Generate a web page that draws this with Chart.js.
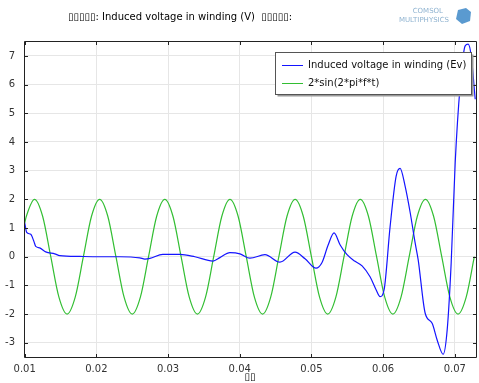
<!DOCTYPE html>
<html>
<head>
<meta charset="utf-8">
<script src="https://cdn.jsdelivr.net/npm/chart.js@4.4.1/dist/chart.umd.min.js"></script>
<style>
html, body { margin: 0; padding: 0; background: #fff; }
#wrap { width: 479px; height: 383px; }
</style>
</head>
<body>
<div id="wrap"><canvas id="voltChart" width="479" height="383"></canvas></div>
<script>
// values
const blueTime = [0.01000, 0.01028, 0.01084, 0.01126, 0.01154, 0.01209, 0.01293, 0.01419, 0.01489, 0.01768,
    0.02047, 0.02327, 0.02606, 0.02676, 0.02746, 0.02927, 0.03165, 0.03374, 0.03626, 0.03723,
    0.03863, 0.04003, 0.04142, 0.04352, 0.04561, 0.04771, 0.04911, 0.05064, 0.05148, 0.05232,
    0.05316, 0.05399, 0.05497, 0.05609, 0.05707, 0.05818, 0.05902, 0.05958, 0.06014, 0.06098,
    0.06182, 0.06237, 0.06307, 0.06377, 0.06447, 0.06489, 0.06587, 0.06684, 0.06754, 0.06838,
    0.06894, 0.06950, 0.07006, 0.07075, 0.07145, 0.07187, 0.07229, 0.07285];
const blueVolts = [1.18, 0.85, 0.78, 0.55, 0.36, 0.31, 0.17, 0.10, 0.04, 0.01,
    0.00, 0.00, -0.04, -0.08, -0.06, 0.08, 0.08, 0.00, -0.15, -0.03,
    0.14, 0.10, -0.05, 0.07, -0.19, 0.16, -0.07, -0.40, -0.20, 0.40,
    0.83, 0.42, 0.07, -0.16, -0.32, -0.70, -1.15, -1.39, -1.15, 1.06,
    2.81, 3.08, 2.46, 1.55, 0.48, -0.10, -1.97, -2.32, -2.90, -3.40,
    -2.55, -0.20, 3.29, 5.95, 7.35, 7.41, 7.00, 5.49];

const greenTime = [0.010000, 0.010227, 0.011364, 0.012500, 0.013636, 0.014773, 0.015909, 0.017045, 0.018182,
    0.019318, 0.020455, 0.021591, 0.022727, 0.023864, 0.025000, 0.026136, 0.027273,
    0.028409, 0.029545, 0.030682, 0.031818, 0.032955, 0.034091, 0.035227, 0.036364,
    0.037500, 0.038636, 0.039773, 0.040909, 0.042045, 0.043182, 0.044318, 0.045455,
    0.046591, 0.047727, 0.048864, 0.050000, 0.051136, 0.052273, 0.053409, 0.054545,
    0.055682, 0.056818, 0.057955, 0.059091, 0.060227, 0.061364, 0.062500, 0.063636,
    0.064773, 0.065909, 0.067045, 0.068182, 0.069318, 0.070455, 0.071591, 0.072727];
const greenVolts = [1.18, 1.41, 2.00, 1.41, 0.00, -1.41, -2.00, -1.41, 0.00,
    1.41, 2.00, 1.41, 0.00, -1.41, -2.00, -1.41, 0.00,
    1.41, 2.00, 1.41, 0.00, -1.41, -2.00, -1.41, 0.00,
    1.41, 2.00, 1.41, 0.00, -1.41, -2.00, -1.41, 0.00,
    1.41, 2.00, 1.41, 0.00, -1.41, -2.00, -1.41, 0.00,
    1.41, 2.00, 1.41, 0.00, -1.41, -2.00, -1.41, 0.00,
    1.41, 2.00, 1.41, 0.00, -1.41, -2.00, -1.41, 0.00];

const xTicks = [0.01, 0.02, 0.03, 0.04, 0.05, 0.06, 0.07];
const yTicks = [-3, -2, -1, 0, 1, 2, 3, 4, 5, 6, 7];
const seriesNames = ['Induced voltage in winding (Ev)', '2*sin(2*pi*f*t)'];
const plotTitle = '\u25AF\u25AF\u25AF\u25AF\u25AF: Induced voltage in winding (V)  \u25AF\u25AF\u25AF\u25AF\u25AF:';
const xTitle = '\u25AF\u25AF';

const FONT = 'DejaVu Sans, sans-serif';
const BLUE = 'rgb(20, 20, 255)';
const GREEN = 'rgb(50, 190, 50)';

function toPoints(xs, ys) {
    return xs.map((x, i) => ({ x: x, y: ys[i] }));
}

// frame with inward ticks on all four sides, like the COMSOL plot
const framePlugin = {
    id: 'frame',
    afterDraw(chart) {
        const ctx = chart.ctx;
        const a = chart.chartArea;
        const xs = chart.scales.x;
        const ys = chart.scales.y;
        ctx.save();
        ctx.strokeStyle = '#222';
        ctx.lineWidth = 1;
        ctx.beginPath();
        ctx.rect(Math.round(a.left) + 0.5, Math.round(a.top) + 0.5,
            Math.round(a.right - a.left) - 1, Math.round(a.bottom - a.top) - 1);
        ctx.stroke();
        ctx.beginPath();
        xTicks.forEach(v => {
            const px = Math.round(xs.getPixelForValue(v)) + 0.5;
            ctx.moveTo(px, a.bottom); ctx.lineTo(px, a.bottom - 4);
            ctx.moveTo(px, a.top); ctx.lineTo(px, a.top + 4);
        });
        yTicks.forEach(v => {
            const py = Math.round(ys.getPixelForValue(v)) + 0.5;
            ctx.moveTo(a.left, py); ctx.lineTo(a.left + 4, py);
            ctx.moveTo(a.right, py); ctx.lineTo(a.right - 4, py);
        });
        ctx.stroke();

        // x axis title
        ctx.fillStyle = '#000';
        ctx.font = '10px ' + FONT;
        ctx.textAlign = 'center';
        ctx.textBaseline = 'middle';
        ctx.fillText(xTitle, 250, 377);

        // plot title
        ctx.textAlign = 'left';
        ctx.fillText(plotTitle, 68, 17);

        // logo
        ctx.fillStyle = '#8fb3d0';
        ctx.font = '7px ' + FONT;
        ctx.textAlign = 'right';
        ctx.fillText('COMSOL', 443, 11);
        ctx.fillText('MULTIPHYSICS', 449, 20);
        ctx.fillStyle = '#5a9ad0';
        ctx.beginPath();
        ctx.moveTo(458, 10); ctx.lineTo(466, 8); ctx.lineTo(471, 12);
        ctx.lineTo(470, 21); ctx.lineTo(462, 24); ctx.lineTo(456, 19);
        ctx.closePath();
        ctx.fill();
        ctx.restore();
    }
};

// boxed legend sitting inside the plot, top right
const boxLegendPlugin = {
    id: 'boxLegend',
    afterDraw(chart) {
        const ctx = chart.ctx;
        const left = 275.5, top = 52.5, w = 196, h = 42;
        ctx.save();
        ctx.fillStyle = '#9a9a9a';
        ctx.fillRect(left + 2, top + 2, w, h);
        ctx.fillStyle = '#fff';
        ctx.fillRect(left, top, w, h);
        ctx.strokeStyle = '#555';
        ctx.lineWidth = 1;
        ctx.strokeRect(left, top, w, h);
        ctx.font = '10px ' + FONT;
        ctx.textBaseline = 'middle';
        ctx.textAlign = 'left';
        chart.data.datasets.forEach((ds, i) => {
            const y = Math.round(top + 12 + i * 18) + 0.5;
            ctx.strokeStyle = ds.borderColor;
            ctx.beginPath();
            ctx.moveTo(282, y); ctx.lineTo(303, y);
            ctx.stroke();
            ctx.fillStyle = '#111';
            ctx.fillText(ds.label, 308, y);
        });
        ctx.restore();
    }
};

new Chart(document.getElementById('voltChart'), {
    type: 'line',
    data: {
        datasets: [{
            label: seriesNames[0],
            data: toPoints(blueTime, blueVolts),
            borderColor: BLUE,
            borderWidth: 1.2,
            pointRadius: 0,
            cubicInterpolationMode: 'monotone',
            fill: false
        }, {
            label: seriesNames[1],
            data: toPoints(greenTime, greenVolts),
            borderColor: GREEN,
            borderWidth: 1.2,
            pointRadius: 0,
            cubicInterpolationMode: 'monotone',
            fill: false
        }]
    },
    options: {
        responsive: false,
        animation: false,
        devicePixelRatio: 1,
        layout: { padding: { top: 41, right: 2, left: 0, bottom: 0 } },
        plugins: {
            legend: { display: false },
            title: { display: false },
            tooltip: { enabled: false }
        },
        scales: {
            x: {
                type: 'linear',
                min: 0.0099,
                max: 0.0731,
                afterBuildTicks: s => { s.ticks = xTicks.map(v => ({ value: v })); },
                afterFit: s => { s.height = 25; },
                grid: { color: '#e6e6e6', drawTicks: false },
                border: { display: false },
                ticks: {
                    color: '#333',
                    font: { size: 10, family: FONT },
                    padding: 5,
                    maxRotation: 0,
                    callback: v => v.toFixed(2)
                }
            },
            y: {
                min: -3.53,
                max: 7.52,
                afterBuildTicks: s => { s.ticks = yTicks.map(v => ({ value: v })); },
                afterFit: s => { s.width = 24; },
                grid: { color: '#e6e6e6', drawTicks: false },
                border: { display: false },
                ticks: {
                    color: '#333',
                    font: { size: 10, family: FONT },
                    padding: 9,
                    callback: v => String(v)
                }
            }
        }
    },
    plugins: [framePlugin, boxLegendPlugin]
});
</script>
</body>
</html>
